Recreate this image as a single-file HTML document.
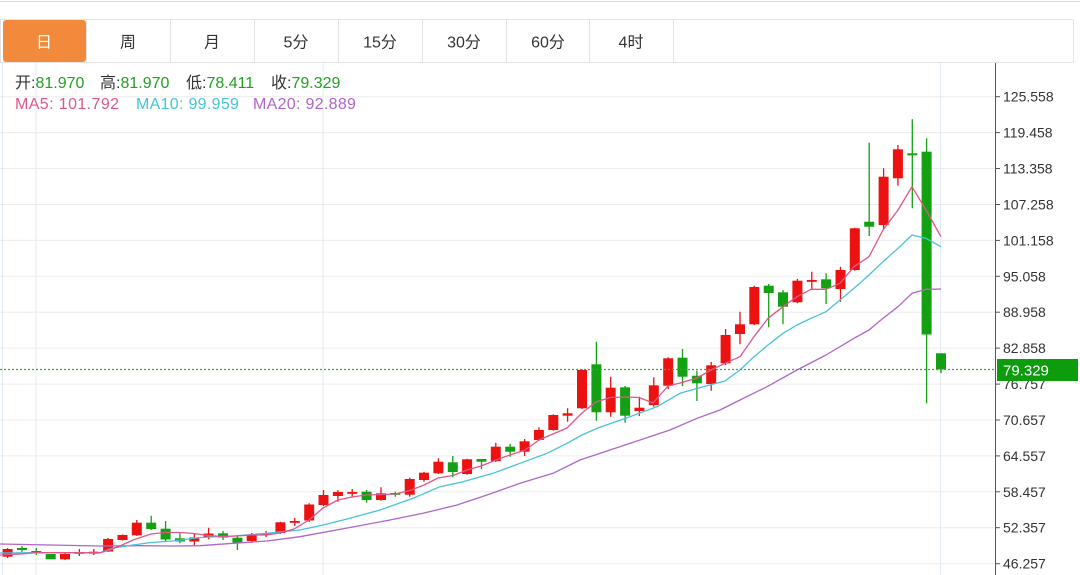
<!DOCTYPE html>
<html>
<head>
<meta charset="utf-8">
<style>
  html,body{margin:0;padding:0;background:#fff;}
  body{width:1080px;height:575px;overflow:hidden;}
  svg{display:block;}
  text{font-family:"Liberation Sans","Noto Sans CJK SC",sans-serif;}
</style>
</head>
<body>
<svg width="1080" height="575" viewBox="0 0 1080 575" xmlns="http://www.w3.org/2000/svg">
  <rect x="0" y="0" width="1080" height="575" fill="#ffffff"/>
  <line x1="0" y1="1.5" x2="1080" y2="1.5" stroke="#dedede" stroke-width="1"/>

  <line x1="0" y1="19.5" x2="1073" y2="19.5" stroke="#e3e3e3" stroke-width="1"/>
  <line x1="0" y1="62.5" x2="1073" y2="62.5" stroke="#e3e3e3" stroke-width="1"/>
  <line x1="1073.5" y1="19.5" x2="1073.5" y2="62.5" stroke="#e3e3e3" stroke-width="1"/>
  <line x1="0.5" y1="19.5" x2="0.5" y2="62.5" stroke="#e3e3e3" stroke-width="1"/>
  <g stroke="#e3e3e3" stroke-width="1">
    <line x1="86.5" y1="20" x2="86.5" y2="62"/>
    <line x1="170.5" y1="20" x2="170.5" y2="62"/>
    <line x1="254.5" y1="20" x2="254.5" y2="62"/>
    <line x1="338.5" y1="20" x2="338.5" y2="62"/>
    <line x1="422.5" y1="20" x2="422.5" y2="62"/>
    <line x1="506.5" y1="20" x2="506.5" y2="62"/>
    <line x1="589.5" y1="20" x2="589.5" y2="62"/>
    <line x1="673.5" y1="20" x2="673.5" y2="62"/>
  </g>
  <rect x="3" y="20" width="83" height="42" rx="3" ry="3" fill="#f18a3b"/>
  <g font-size="16" text-anchor="middle">
    <text x="44" y="47.5" fill="#ffffff">日</text>
    <text x="128" y="47.5" fill="#333">周</text>
    <text x="212" y="47.5" fill="#333">月</text>
    <text x="296" y="47.5" fill="#333">5分</text>
    <text x="380" y="47.5" fill="#333">15分</text>
    <text x="464" y="47.5" fill="#333">30分</text>
    <text x="548" y="47.5" fill="#333">60分</text>
    <text x="631" y="47.5" fill="#333">4时</text>
  </g>

  <g stroke="#ececec" stroke-width="1">
    <line x1="0" y1="96.7" x2="995" y2="96.7"/>
    <line x1="0" y1="132.6" x2="995" y2="132.6"/>
    <line x1="0" y1="168.5" x2="995" y2="168.5"/>
    <line x1="0" y1="204.5" x2="995" y2="204.5"/>
    <line x1="0" y1="240.4" x2="995" y2="240.4"/>
    <line x1="0" y1="276.3" x2="995" y2="276.3"/>
    <line x1="0" y1="312.2" x2="995" y2="312.2"/>
    <line x1="0" y1="348.1" x2="995" y2="348.1"/>
    <line x1="0" y1="384.1" x2="995" y2="384.1"/>
    <line x1="0" y1="420.0" x2="995" y2="420.0"/>
    <line x1="0" y1="455.9" x2="995" y2="455.9"/>
    <line x1="0" y1="491.8" x2="995" y2="491.8"/>
    <line x1="0" y1="527.7" x2="995" y2="527.7"/>
    <line x1="0" y1="563.7" x2="995" y2="563.7"/>
  </g>
  <g stroke="#e4ebf0" stroke-width="1">
    <line x1="2.5" y1="63" x2="2.5" y2="575"/>
    <line x1="36" y1="63" x2="36" y2="575"/>
    <line x1="323" y1="63" x2="323" y2="575"/>
    <line x1="940.5" y1="63" x2="940.5" y2="575"/>
  </g>

  <g font-size="16">
    <text x="15" y="88"><tspan fill="#333">开:</tspan><tspan fill="#22a022">81.970</tspan></text>
    <text x="100" y="88"><tspan fill="#333">高:</tspan><tspan fill="#22a022">81.970</tspan></text>
    <text x="186" y="88"><tspan fill="#333">低:</tspan><tspan fill="#22a022">78.411</tspan></text>
    <text x="271" y="88"><tspan fill="#333">收:</tspan><tspan fill="#22a022">79.329</tspan></text>
    <text x="15" y="109" fill="#e0568a" letter-spacing="0.4">MA5: 101.792</text>
    <text x="136" y="109" fill="#45c3d8" letter-spacing="0.3">MA10: 99.959</text>
    <text x="253" y="109" fill="#b065c8" letter-spacing="0.3">MA20: 92.889</text>
  </g>

  <path fill="none" stroke="#ec1212" stroke-width="1.3" d="M7.6 548V558 M65 553V560 M79.4 549V556 M93.8 549V555 M108.1 538V552 M122.5 534.5V540.5 M136.8 520V536 M194.3 533V546 M208.6 527.7V539.3 M251.7 533V543 M266.1 531V537 M280.4 521.7V534 M294.8 518V526 M309.2 503.3V522 M323.5 490V506 M337.9 490V501.7 M352.2 489V496.7 M381 487.3V500.7 M409.7 477.7V496.7 M424 471.7V481.7 M438.4 458.3V474 M467.1 458.7V474.7 M495.8 442.7V462 M524.6 439V456 M538.9 427.3V440.7 M553.3 414.3V430.7 M567.6 408.3V421.7 M582 369.3V409 M610.7 376.7V416.7 M639.4 396.7V416 M653.8 377.3V406.7 M668.2 357.3V389.3 M711.2 362V390.7 M725.6 329V365 M740 311.7V344.3 M754.3 285.7V325 M797.4 279V303.3 M811.8 271.7V289 M840.5 266.7V301.7 M854.8 227.7V270.7 M883.6 168.3V229.3 M897.9 145V185.7"/>
  <g fill="#ec1212">
    <rect x="2.6" y="549" width="10" height="7.7"/>
    <rect x="60" y="554" width="10" height="5.3"/>
    <rect x="74.4" y="552" width="10" height="1.8"/>
    <rect x="88.8" y="551.7" width="10" height="2"/>
    <rect x="103.1" y="539" width="10" height="12.5"/>
    <rect x="117.5" y="535" width="10" height="5"/>
    <rect x="131.8" y="522.7" width="10" height="12.6"/>
    <rect x="189.3" y="537.5" width="10" height="4"/>
    <rect x="203.6" y="533.5" width="10" height="4"/>
    <rect x="246.7" y="535" width="10" height="6"/>
    <rect x="261.1" y="533" width="10" height="2"/>
    <rect x="275.4" y="522.3" width="10" height="10.7"/>
    <rect x="289.8" y="521" width="10" height="1.8"/>
    <rect x="304.2" y="504.5" width="10" height="16"/>
    <rect x="318.5" y="495" width="10" height="10"/>
    <rect x="332.9" y="492" width="10" height="4"/>
    <rect x="347.2" y="492" width="10" height="1.8"/>
    <rect x="376" y="493.3" width="10" height="6.7"/>
    <rect x="404.7" y="479" width="10" height="15.7"/>
    <rect x="419" y="472.7" width="10" height="7.3"/>
    <rect x="433.4" y="461.7" width="10" height="11.6"/>
    <rect x="462.1" y="459.3" width="10" height="14.7"/>
    <rect x="490.8" y="446.7" width="10" height="14.3"/>
    <rect x="519.6" y="441.3" width="10" height="10.4"/>
    <rect x="533.9" y="430" width="10" height="10"/>
    <rect x="548.3" y="415" width="10" height="15"/>
    <rect x="562.6" y="413.3" width="10" height="2.4"/>
    <rect x="577" y="370" width="10" height="38.3"/>
    <rect x="605.7" y="387.7" width="10" height="24.6"/>
    <rect x="634.4" y="407.7" width="10" height="3.3"/>
    <rect x="648.8" y="385.3" width="10" height="19.7"/>
    <rect x="663.2" y="358.3" width="10" height="27.4"/>
    <rect x="706.2" y="365.3" width="10" height="18.7"/>
    <rect x="720.6" y="335" width="10" height="28.3"/>
    <rect x="735" y="324.3" width="10" height="9.7"/>
    <rect x="749.3" y="287" width="10" height="37.3"/>
    <rect x="792.4" y="280.7" width="10" height="21.6"/>
    <rect x="806.8" y="280" width="10" height="1.8"/>
    <rect x="835.5" y="270" width="10" height="19"/>
    <rect x="849.8" y="228.3" width="10" height="41.7"/>
    <rect x="878.6" y="176.7" width="10" height="48.3"/>
    <rect x="892.9" y="149.3" width="10" height="29"/>
  </g>

  <path fill="none" stroke="#13a013" stroke-width="1.3" d="M22 546V552 M36.3 548V555 M50.7 554V559.3 M151.2 515.7V530 M165.6 521V541.5 M179.9 533.3V543.3 M223 531V540 M237.4 535V550 M366.6 490V502.7 M395.3 491.7V496.7 M452.8 456V477.3 M481.5 459V469.3 M510.2 444V456.7 M596.4 341.7V420.7 M625.1 386V422.7 M682.5 349V386 M696.9 370.7V401 M768.7 284V327.3 M783 290V324.3 M826.1 273.3V304 M869.2 142.7V236 M912.3 119.3V208.3 M926.6 138.3V403.3 M941 353.3V373.3"/>
  <g fill="#13a013">
    <rect x="17" y="548" width="10" height="2"/>
    <rect x="31.3" y="551" width="10" height="2"/>
    <rect x="45.7" y="554" width="10" height="5.3"/>
    <rect x="146.2" y="522.7" width="10" height="6.3"/>
    <rect x="160.6" y="528.7" width="10" height="10.8"/>
    <rect x="174.9" y="538.3" width="10" height="3.2"/>
    <rect x="218" y="533.3" width="10" height="4.2"/>
    <rect x="232.4" y="537.7" width="10" height="5"/>
    <rect x="361.6" y="491.7" width="10" height="8.3"/>
    <rect x="390.3" y="493" width="10" height="1.8"/>
    <rect x="447.8" y="462.3" width="10" height="9.7"/>
    <rect x="476.5" y="459" width="10" height="2.7"/>
    <rect x="505.2" y="446.7" width="10" height="5"/>
    <rect x="591.4" y="364.3" width="10" height="48"/>
    <rect x="620.1" y="387.3" width="10" height="28.4"/>
    <rect x="677.5" y="357.7" width="10" height="19"/>
    <rect x="691.9" y="375.7" width="10" height="7.6"/>
    <rect x="763.7" y="285.7" width="10" height="7.3"/>
    <rect x="778" y="292.3" width="10" height="14.4"/>
    <rect x="821.1" y="279.3" width="10" height="9"/>
    <rect x="864.2" y="221.7" width="10" height="5"/>
    <rect x="907.3" y="153.3" width="10" height="2"/>
    <rect x="921.6" y="151.7" width="10" height="182.8"/>
    <rect x="936" y="353.3" width="10" height="16.2"/>
  </g>

  <polyline fill="none" stroke="#b065c8" stroke-width="1.3" stroke-linejoin="round" points="0,544 100,546 140,545.7 173,546 200,545.7 233,543.3 267,541 300,536.7 350,527.5 390,520 423,513.3 457,505 487,495 520,483.3 553,473.3 580,460 625,445 670,430 697,418.3 720,410 740,400 767,386.7 797,370 826,355 854,338.3 869,330 883,318.3 898,306.7 912,293.3 926,289.3 941,289"/>
  <polyline fill="none" stroke="#45c3d8" stroke-width="1.3" stroke-linejoin="round" points="0,553 36,552.7 65,552.7 100,552.7 113,548 133,545 151,542.5 173,541 200,537.5 233,536 267,533.3 300,530 323,525 347,519 380,510 413,498.3 440,486.7 463,481.7 493,473.3 520,463.3 547,453.3 567,443.3 582,435 597,428.3 630,416.7 657,406.7 680,393.3 703,386.7 725,381 740,370 754,356.7 768,345 783,333.3 797,325 811,318.3 826,311.7 840,300 854,288.3 869,275 883,261.7 898,248.3 912,235 926,238.3 941,246.7"/>
  <polyline fill="none" stroke="#e0568a" stroke-width="1.3" stroke-linejoin="round" points="0,555 20,554 36,552.7 65,552.7 100,552.7 110,550 122,545 133,540 151,534 165,532.5 180,532.5 194,533.5 208,535.5 223,536.5 237,536 251,535 266,535 280,533 294,529 309,520 323,508 338,500 352,497 366,495 381,494.5 395,494 410,490.5 424,485 438,478 453,475.5 467,470 481,466 496,460 510,455 525,450 539,440 553,434 567,428 582,413 596,402 610,397.5 625,397 639,397.5 653,403 668,386 682,382.5 697,378 711,370 725,363.3 740,356.7 754,336.7 768,318.3 783,306.7 797,296.7 811,289.3 826,289.3 840,283.3 854,266.7 869,256.7 883,230 898,210 912,186.7 926,210 941,236.7"/>

  <line x1="0" y1="369.5" x2="996" y2="369.5" stroke="#3aa83a" stroke-width="1.3" stroke-dasharray="2,2"/>

  <line x1="995.5" y1="63" x2="995.5" y2="575" stroke="#555" stroke-width="1"/>
  <g stroke="#555" stroke-width="1">
    <line x1="995" y1="96.7" x2="1000" y2="96.7"/>
    <line x1="995" y1="132.6" x2="1000" y2="132.6"/>
    <line x1="995" y1="168.5" x2="1000" y2="168.5"/>
    <line x1="995" y1="204.5" x2="1000" y2="204.5"/>
    <line x1="995" y1="240.4" x2="1000" y2="240.4"/>
    <line x1="995" y1="276.3" x2="1000" y2="276.3"/>
    <line x1="995" y1="312.2" x2="1000" y2="312.2"/>
    <line x1="995" y1="348.1" x2="1000" y2="348.1"/>
    <line x1="995" y1="384.1" x2="1000" y2="384.1"/>
    <line x1="995" y1="420.0" x2="1000" y2="420.0"/>
    <line x1="995" y1="455.9" x2="1000" y2="455.9"/>
    <line x1="995" y1="491.8" x2="1000" y2="491.8"/>
    <line x1="995" y1="527.7" x2="1000" y2="527.7"/>
    <line x1="995" y1="563.7" x2="1000" y2="563.7"/>
  </g>
  <g font-size="14" fill="#333">
    <text x="1003" y="101.7">125.558</text>
    <text x="1003" y="137.6">119.458</text>
    <text x="1003" y="173.5">113.358</text>
    <text x="1003" y="209.5">107.258</text>
    <text x="1003" y="245.4">101.158</text>
    <text x="1003" y="281.3">95.058</text>
    <text x="1003" y="317.2">88.958</text>
    <text x="1003" y="353.1">82.858</text>
    <text x="1003" y="389.1">76.757</text>
    <text x="1003" y="425.0">70.657</text>
    <text x="1003" y="460.9">64.557</text>
    <text x="1003" y="496.8">58.457</text>
    <text x="1003" y="532.7">52.357</text>
    <text x="1003" y="568.7">46.257</text>
  </g>

  <rect x="997" y="359" width="81" height="22" fill="#0c9c0c"/>
  <text x="1003" y="375.5" font-size="15" fill="#ffffff">79.329</text>
</svg>
</body>
</html>
